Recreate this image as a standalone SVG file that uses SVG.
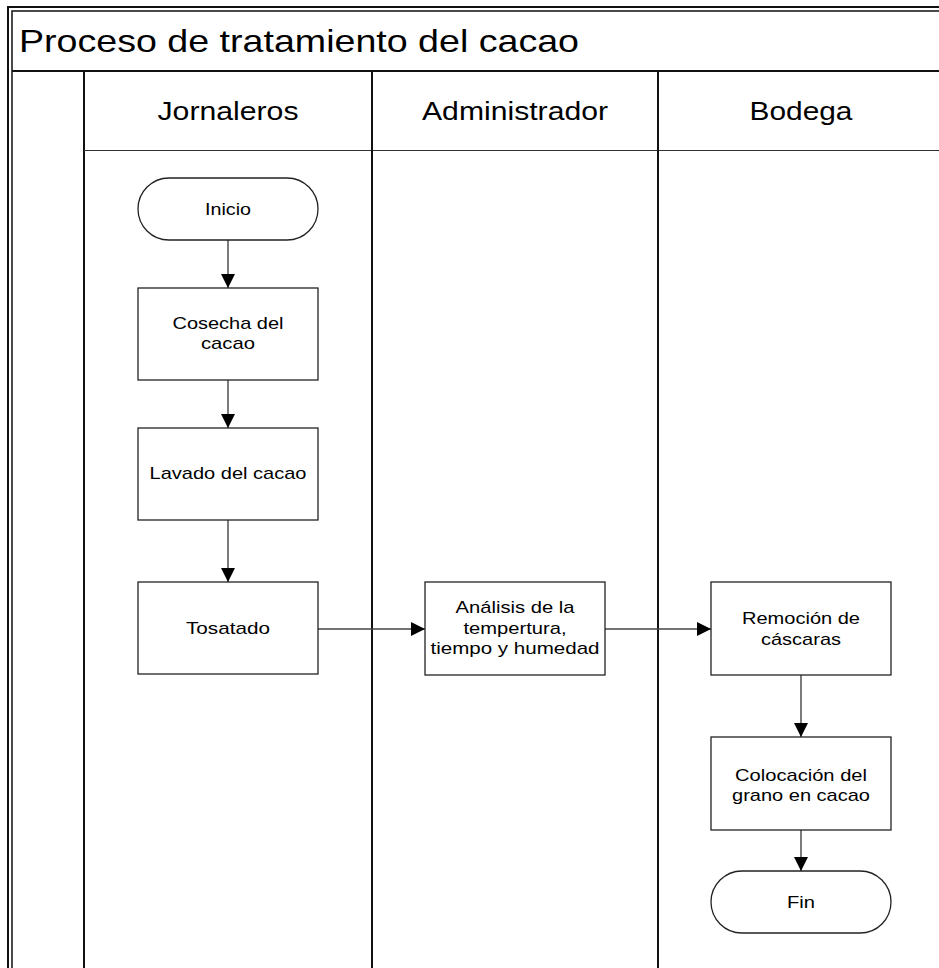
<svg xmlns="http://www.w3.org/2000/svg" width="939" height="968" viewBox="0 0 939 968">
<style>
.frame{fill:none;stroke:#111;}
.lane{stroke:#111;stroke-width:2;fill:none;}
.node{fill:#fff;stroke:#222;stroke-width:1.3;}
.conn{stroke:#444;stroke-width:1.4;fill:none;marker-end:url(#ah);}
text{font-family:"Liberation Sans",Arial,sans-serif;fill:#000;}
.title{font-size:32px;}
.hdr{font-size:26px;text-anchor:middle;}
.t{font-size:17px;text-anchor:middle;}
</style>
<defs>
<marker id="ah" markerUnits="userSpaceOnUse" markerWidth="14" markerHeight="14" refX="14" refY="7" orient="auto">
<path d="M0,0 L14,7 L0,14 Z" fill="#000"/>
</marker>
</defs>
<rect width="939" height="968" fill="#fff"/>
<g id="pool">
<rect class="frame" x="8" y="7" width="960" height="990" stroke-width="2"/>
<rect class="frame" x="12" y="11" width="960" height="990" stroke-width="1.5"/>
<line class="lane" x1="12" y1="71" x2="939" y2="71"/>
<line class="lane" x1="84" y1="71" x2="84" y2="968"/>
<line x1="84" y1="150.5" x2="939" y2="150.5" stroke="#333" stroke-width="1.2"/>
<line class="lane" x1="372" y1="71" x2="372" y2="968"/>
<line class="lane" x1="658" y1="71" x2="658" y2="968"/>
<text class="title" x="19" y="52" textLength="560" lengthAdjust="spacingAndGlyphs">Proceso de tratamiento del cacao</text>
<text class="hdr" x="228" y="120" textLength="141" lengthAdjust="spacingAndGlyphs">Jornaleros</text>
<text class="hdr" x="515" y="120" textLength="186" lengthAdjust="spacingAndGlyphs">Administrador</text>
<text class="hdr" x="801" y="120" textLength="103" lengthAdjust="spacingAndGlyphs">Bodega</text>
</g>
<g id="connectors">
<line class="conn" x1="228" y1="240" x2="228" y2="288"/>
<line class="conn" x1="228" y1="380" x2="228" y2="428"/>
<line class="conn" x1="228" y1="520" x2="228" y2="582"/>
<line class="conn" x1="318" y1="629" x2="425" y2="629"/>
<line class="conn" x1="605" y1="629" x2="711" y2="629"/>
<line class="conn" x1="801" y1="675" x2="801" y2="737"/>
<line class="conn" x1="801" y1="830" x2="801" y2="871"/>
</g>
<g id="inicio">
<rect class="node" x="138" y="178" width="180" height="62" rx="31" ry="31"/>
<text class="t" x="228" y="215" textLength="46" lengthAdjust="spacingAndGlyphs">Inicio</text>
</g>
<g id="cosecha">
<rect class="node" x="138" y="288" width="180" height="92"/>
<text class="t" x="228" y="329" textLength="111" lengthAdjust="spacingAndGlyphs">Cosecha del</text>
<text class="t" x="228" y="349" textLength="54" lengthAdjust="spacingAndGlyphs">cacao</text>
</g>
<g id="lavado">
<rect class="node" x="138" y="428" width="180" height="92"/>
<text class="t" x="228" y="479" textLength="157" lengthAdjust="spacingAndGlyphs">Lavado del cacao</text>
</g>
<g id="tosatado">
<rect class="node" x="138" y="582" width="180" height="92"/>
<text class="t" x="228" y="634" textLength="84" lengthAdjust="spacingAndGlyphs">Tosatado</text>
</g>
<g id="analisis">
<rect class="node" x="425" y="582" width="180" height="93"/>
<text class="t" x="515" y="613" textLength="119" lengthAdjust="spacingAndGlyphs">Análisis de la</text>
<text class="t" x="515" y="634" textLength="103" lengthAdjust="spacingAndGlyphs">tempertura,</text>
<text class="t" x="515" y="654" textLength="169" lengthAdjust="spacingAndGlyphs">tiempo y humedad</text>
</g>
<g id="remocion">
<rect class="node" x="711" y="582" width="180" height="93"/>
<text class="t" x="801" y="624" textLength="118" lengthAdjust="spacingAndGlyphs">Remoción de</text>
<text class="t" x="801" y="645" textLength="80" lengthAdjust="spacingAndGlyphs">cáscaras</text>
</g>
<g id="colocacion">
<rect class="node" x="711" y="737" width="180" height="93"/>
<text class="t" x="801" y="781" textLength="132" lengthAdjust="spacingAndGlyphs">Colocación del</text>
<text class="t" x="801" y="801" textLength="138" lengthAdjust="spacingAndGlyphs">grano en cacao</text>
</g>
<g id="fin">
<rect class="node" x="711" y="871" width="180" height="62" rx="31" ry="31"/>
<text class="t" x="801" y="908" textLength="28" lengthAdjust="spacingAndGlyphs">Fin</text>
</g>
</svg>
